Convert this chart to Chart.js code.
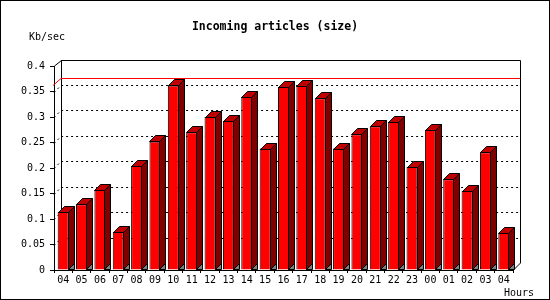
<!DOCTYPE html>
<html>
<head>
<meta charset="utf-8">
<script src="https://cdn.jsdelivr.net/npm/chart.js@4"></script>
<style>
  html, body { margin: 0; padding: 0; background: #fff; }
  #wrap { width: 550px; height: 300px; position: relative; }
</style>
</head>
<body>
<div id="wrap"><canvas id="chart"></canvas></div>
<script>
// data
const hours = ['04','05','06','07','08','09','10','11','12','13','14','15','16',
               '17','18','19','20','21','22','23','00','01','02','03','04'];
const kbPerSec = [0.114, 0.129, 0.157, 0.075, 0.204, 0.252, 0.362, 0.270, 0.300,
                  0.292, 0.339, 0.238, 0.359, 0.361, 0.337, 0.238, 0.266, 0.282,
                  0.290, 0.202, 0.275, 0.178, 0.155, 0.231, 0.073];
const yLabels = ['0', '0.05', '0.1', '0.15', '0.2', '0.25', '0.3', '0.35', '0.4'];

const MONO = '"DejaVu Sans Mono", monospace';
const DEPTH = 7;     // depth of the plot box
const BAR_D = 6;     // depth of each bar

/* ---- back wall, dotted grid, max line ---- */
const backPlane = {
  id: 'backPlane',
  beforeDatasetsDraw(chart) {
    const { ctx, chartArea: a, scales: { y } } = chart;
    const L = a.left, R = a.right, B = a.bottom, T = a.top;
    ctx.save();
    ctx.lineWidth = 1;
    ctx.strokeStyle = '#000';

    // dotted grid on the back wall
    ctx.setLineDash([2, 3]);
    y.ticks.forEach(t => {
      if (t.value <= 0 || t.value >= 0.4) return;
      const py = Math.round(y.getPixelForValue(t.value)) + 0.5;
      ctx.beginPath();
      ctx.moveTo(L, py);
      ctx.lineTo(L + DEPTH, py - DEPTH);
      ctx.lineTo(R + DEPTH, py - DEPTH);
      ctx.stroke();
    });
    ctx.setLineDash([]);

    // box outline
    ctx.beginPath();
    ctx.moveTo(L + 0.5, T);
    ctx.lineTo(L + DEPTH + 0.5, T - 6 + 0.5);
    ctx.lineTo(R + DEPTH + 0.5, T - 6 + 0.5);
    ctx.lineTo(R + DEPTH + 0.5, B - DEPTH);
    ctx.lineTo(R + 0.5, B);
    ctx.moveTo(L + DEPTH + 0.5, T - 6);
    ctx.lineTo(L + DEPTH + 0.5, B - DEPTH);
    ctx.stroke();

    // red line at the max value
    const max = Math.max(...kbPerSec);
    const my = Math.round(y.getPixelForValue(max)) + 0.5;
    ctx.strokeStyle = '#ff0000';
    ctx.beginPath();
    ctx.moveTo(L - 1, my);
    ctx.lineTo(L + DEPTH, my - DEPTH);
    ctx.lineTo(R + DEPTH, my - DEPTH);
    ctx.stroke();
    ctx.restore();
  }
};

/* ---- 3d sides and tops of the bars ---- */
const bars3d = {
  id: 'bars3d',
  afterDatasetsDraw(chart) {
    const { ctx } = chart;
    ctx.save();
    ctx.lineWidth = 1;
    ctx.strokeStyle = '#000';
    chart.getDatasetMeta(0).data.forEach(bar => {
      const l = Math.round(bar.x - bar.width / 2) + 0.5;
      const r = Math.round(bar.x + bar.width / 2) - 0.5;
      const t = Math.round(bar.y) + 0.5;
      const b = Math.round(bar.base) - 0.5;

      const poly = (pts, fill) => {
        ctx.beginPath();
        ctx.moveTo(pts[0][0], pts[0][1]);
        pts.slice(1).forEach(p => ctx.lineTo(p[0], p[1]));
        ctx.closePath();
        ctx.fillStyle = fill;
        ctx.fill();
        ctx.stroke();
      };
      poly([[r, t], [r + BAR_D, t - BAR_D], [r + BAR_D, b - BAR_D], [r, b]], '#800000');
      poly([[r, b], [r + BAR_D, b - BAR_D], [r + BAR_D, b]], '#808080');
      poly([[l, t], [l + BAR_D, t - BAR_D], [r + BAR_D, t - BAR_D], [r, t]], '#c00000');
    });
    ctx.restore();
  }
};

/* ---- texts and outer frame ---- */
const texts = {
  id: 'texts',
  afterDraw(chart) {
    const { ctx, width, height } = chart;
    ctx.save();
    ctx.fillStyle = '#000';
    ctx.textBaseline = 'middle';
    ctx.font = 'bold 11.5px ' + MONO;
    ctx.textAlign = 'center';
    ctx.fillText('Incoming articles (size)', 275, 27);
    ctx.font = '10px ' + MONO;
    ctx.textAlign = 'left';
    ctx.fillText('Kb/sec', 29, 37);
    ctx.fillText('Hours', 504, 293);
    ctx.strokeStyle = '#000';
    ctx.lineWidth = 1;
    ctx.strokeRect(0.5, 0.5, width - 1, height - 1);
    ctx.restore();
  }
};

new Chart(document.getElementById('chart'), {
  type: 'bar',
  data: {
    labels: hours,
    datasets: [{
      data: kbPerSec,
      backgroundColor: '#ff0000',
      borderColor: '#000',
      borderWidth: 1,
      barPercentage: 0.6,
      categoryPercentage: 1,
    }]
  },
  options: {
    responsive: true,
    maintainAspectRatio: false,
    animation: false,
    layout: { padding: { left: 0, right: 37, top: 66, bottom: 0 } },
    plugins: { legend: { display: false }, tooltip: { enabled: false } },
    scales: {
      x: {
        afterFit: s => { s.height = 30; },
        grid: { offset: true, drawOnChartArea: false, tickLength: 3, color: '#000' },
        border: { color: '#000' },
        ticks: { color: '#000', padding: 1, font: { family: MONO, size: 10 }, maxRotation: 0, autoSkip: false }
      },
      y: {
        min: 0,
        max: 0.4,
        afterFit: s => { s.width = 54; },
        grid: { drawOnChartArea: false, tickLength: 4, color: '#000' },
        border: { color: '#000' },
        ticks: {
          stepSize: 0.05,
          color: '#000',
          padding: 5,
          font: { family: MONO, size: 10 },
          callback: (v, i) => yLabels[i]
        }
      }
    }
  },
  plugins: [backPlane, bars3d, texts]
});
</script>
</body>
</html>
